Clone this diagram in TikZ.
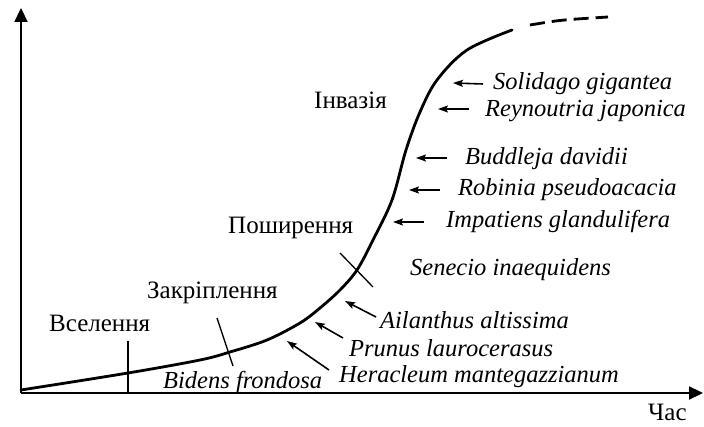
\documentclass[tikz,border=0pt]{standalone}
\usepackage{fontspec}
\setmainfont{Liberation Serif}
\usetikzlibrary{arrows.meta}
\begin{document}
\begin{tikzpicture}[x=1pt,y=-1pt,
  lbl/.style={inner sep=0pt,anchor=west,font=\fontsize{25}{25}\selectfont},
  sp/.style={inner sep=0pt,anchor=west,font=\fontsize{24.5}{24.5}\selectfont\itshape},
  axis/.style={line width=2.2pt,-{Triangle[length=14pt,width=13pt]}},
  curve/.style={line width=2.8pt,line cap=round},
  tick/.style={line width=1.3pt},
  sarrow/.style={line width=1.6pt,-{Stealth[length=10pt,width=7pt,inset=2pt]}}]
\useasboundingbox (0,0) rectangle (704,427);
\coordinate (O) at (21,393);
\coordinate (Y) at (21,8);
\coordinate (X) at (703,393);
\draw[axis] (O) -- (Y);
\draw[axis] (O) -- (X);
% main curve
\draw[curve] plot[smooth,tension=0.55] coordinates {(21,390) (128,373) (200,360) (230,352) (267,340) (300,323) (320,308) (340,290) (357,270) (373,240) (392,200) (406,150) (420,112) (437,80) (467,50) (512,30)};
\coordinate (d1) at (530,25);
\coordinate (d2) at (608,17);
\draw[line width=2.8pt,dash pattern=on 15pt off 7pt] (d1) .. controls (560,20) .. (d2);
% ticks
\coordinate (t1a) at (128,341); \coordinate (t1b) at (128,393);
\draw[tick] (t1a) -- (t1b);
\coordinate (t2a) at (217,318); \coordinate (t2b) at (233,366);
\draw[tick] (t2a) -- (t2b);
\coordinate (t3a) at (340,253); \coordinate (t3b) at (373,287);
\draw[tick] (t3a) -- (t3b);
% stage labels
\node[lbl] (vs) at (49,323) {Вселення};
\node[lbl] (zk) at (147,293) {Закріплення};
\node[lbl] (po) at (228,228) {Поширення};
\node[lbl] (in) at (314,100) {Інвазія};
\node[lbl] (chas) at (648,412) {Час};
% species
\node[sp] (s1) at (493,84) {Solidago gigantea};
\node[sp] (s2) at (485,111) {Reynoutria japonica};
\node[sp] (s3) at (465,159) {Buddleja davidii};
\node[sp] (s4) at (458,190) {Robinia pseudoacacia};
\node[sp] (s5) at (446,221) {Impatiens glandulifera};
\node[sp] (s6) at (410,270) {Senecio inaequidens};
\node[sp] (s7) at (380,320) {Ailanthus altissima};
\node[sp] (s8) at (349,348) {Prunus laurocerasus};
\node[sp] (s9) at (339,377) {Heracleum mantegazzianum};
\node[sp] (s10) at (163,382) {Bidens frondosa};
% arrows
\coordinate (a1) at (453,83); \draw[sarrow] (s1.west) ++(-10,0) coordinate (b1) (b1) -- (a1);
\coordinate (a2) at (438,109); \draw[sarrow] (s2.west) ++(-16,-2) coordinate (b2) (b2) -- (a2);
\coordinate (a3) at (416,158); \draw[sarrow] (s3.west) ++(-18,-1) coordinate (b3) (b3) -- (a3);
\coordinate (a4) at (409,190); \draw[sarrow] (s4.west) ++(-18,0) coordinate (b4) (b4) -- (a4);
\coordinate (a5) at (393,222); \draw[sarrow] (s5.west) ++(-22,1) coordinate (b5) (b5) -- (a5);
\coordinate (a7) at (345,301); \draw[sarrow] (s7.west) ++(-4,-3) coordinate (b7) (b7) -- (a7);
\coordinate (a8) at (315,322); \draw[sarrow] (s8.west) ++(-6,-10) coordinate (b8) (b8) -- (a8);
\coordinate (a9) at (287,341); \draw[sarrow] (s9.west) ++(-10,-7) coordinate (b9) (b9) -- (a9);
\end{tikzpicture}
\end{document}
